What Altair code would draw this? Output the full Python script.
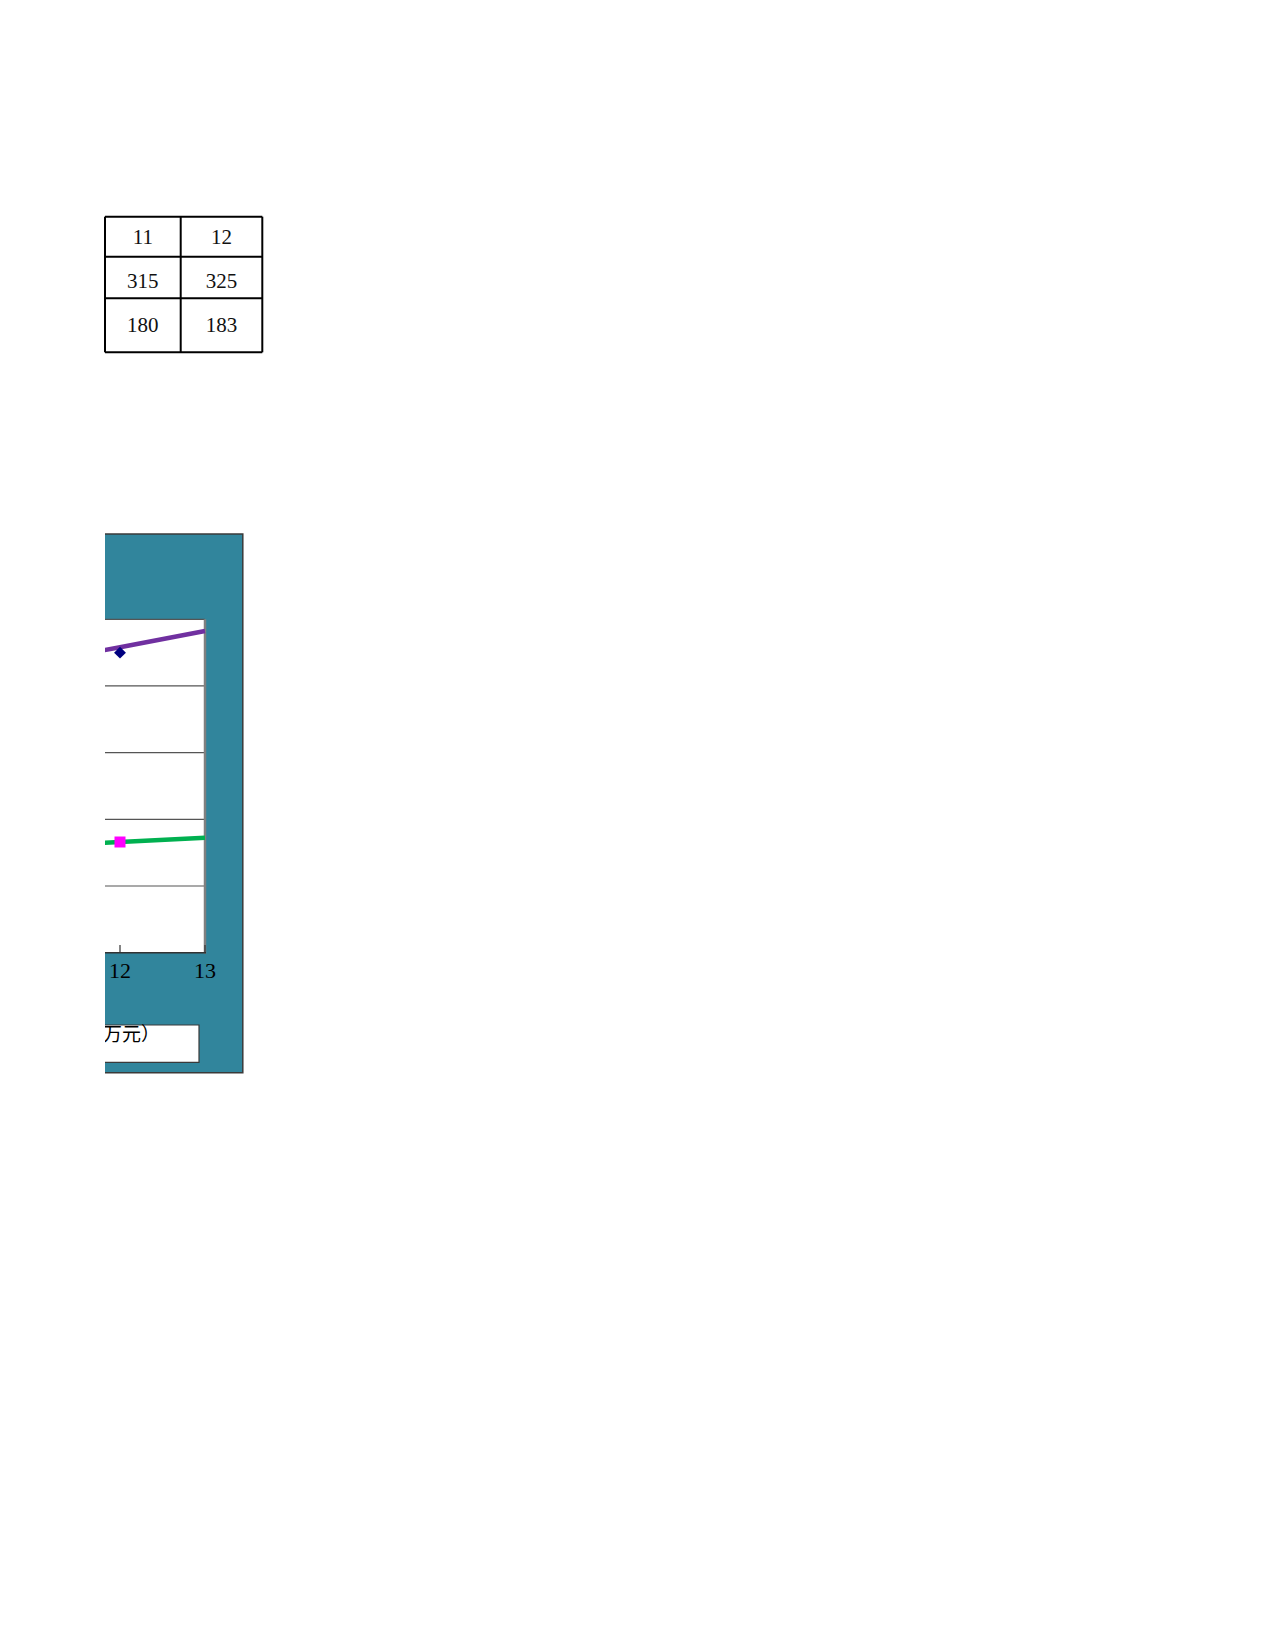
import altair as alt
import pandas as pd

# ---- data ----
years = [11, 12]
series_a = [315, 325]          # navy diamonds / purple trend
series_b = [180, 183]          # magenta squares / green trend
trend_x = [11, 12, 13]
trend_a = [317.0, 329.1, 341.2]
trend_b = [179.8, 183.0, 186.2]
grid_values = [150, 200, 250, 300, 350]
axis_base = [100]
tick_values = [12, 13]
legend_text = ["（万元）"]

# ---- tables for the library ----
rows = []
for i, yv in enumerate(years):
    rows.append({"col": str(yv), "row": "r0", "label": str(yv)})
    rows.append({"col": str(yv), "row": "r1", "label": str(series_a[i])})
    rows.append({"col": str(yv), "row": "r2", "label": str(series_b[i])})
table_df = pd.DataFrame(rows)

pts_a = pd.DataFrame({"x": years, "v": series_a})
pts_b = pd.DataFrame({"x": years, "v": series_b})
trend_df = pd.DataFrame(
    {"x": trend_x * 2, "v": trend_a + trend_b,
     "s": ["a"] * len(trend_x) + ["b"] * len(trend_x)}
)
grid_df = pd.DataFrame({"v": grid_values})
base_df = pd.DataFrame({"v": axis_base})
tick_df = pd.DataFrame({"x": tick_values, "t": [str(t) for t in tick_values]})
leg_df = pd.DataFrame({"t": legend_text})

SERIF = "Liberation Serif"

xs = alt.Scale(domain=[11, 13], range=[-70, 100], nice=False, zero=False)
ys = alt.Scale(domain=[100, 350], range=[736.0, 402.6], nice=False, zero=False)

# ---- table ----
table_text = alt.Chart(table_df).mark_text(
    font=SERIF, fontSize=21, align="center", baseline="middle", color="#111111"
).encode(
    x=alt.X("col:N", scale=alt.Scale(domain=["11", "12"], range=[-1.5, 155.8],
                                     paddingInner=0, paddingOuter=0), axis=None),
    y=alt.Y("row:N", scale=alt.Scale(domain=["r0", "r1", "r2"], range=[-1.2, 131.2],
                                     paddingInner=0, paddingOuter=0), axis=None),
    text="label:N",
)

def hrule(y, x1, x2, color="black", w=2):
    return alt.Chart(pd.DataFrame({"k": [0]})).mark_rule(color=color, strokeWidth=w).encode(
        x=alt.value(x1), x2=alt.value(x2), y=alt.value(y))

def vrule(x, y1, y2, color="black", w=2):
    return alt.Chart(pd.DataFrame({"k": [0]})).mark_rule(color=color, strokeWidth=w).encode(
        x=alt.value(x), y=alt.value(y1), y2=alt.value(y2))

table_lines = [
    hrule(0, 0, 157.3), hrule(40, 0, 157.3), hrule(81.6, 0, 157.3), hrule(135.6, 0, 157.3),
    vrule(0, 0, 135.6), vrule(75.7, 0, 135.6), vrule(157.3, 0, 135.6),
]

# ---- chart fragment ----
one = pd.DataFrame({"k": [0]})
teal = alt.Chart(one).mark_rect(fill="#31859C", stroke="#3a3a3a", strokeWidth=1.5, clip=True).encode(
    x=alt.value(-5), x2=alt.value(137.8), y=alt.value(317.3), y2=alt.value(856))
plot_bg = alt.Chart(one).mark_rect(fill="white", clip=True).encode(
    x=alt.value(-5), x2=alt.value(100), y=alt.value(402.6), y2=alt.value(736))
right_border = vrule(100, 402.6, 737, color="#808080", w=2.5)

grid = alt.Chart(grid_df).mark_rule(color="#555555", strokeWidth=1.2).encode(
    y=alt.Y("v:Q", scale=ys, axis=None), x=alt.value(0), x2=alt.value(100))
base = alt.Chart(base_df).mark_rule(color="#333333", strokeWidth=1.5).encode(
    y=alt.Y("v:Q", scale=ys, axis=None), x=alt.value(0), x2=alt.value(101))
ticks = alt.Chart(tick_df).mark_rule(color="#333333", strokeWidth=1.2).encode(
    x=alt.X("x:Q", scale=xs, axis=None), y=alt.value(728.3), y2=alt.value(736))
tick_labels = alt.Chart(tick_df).mark_text(
    font=SERIF, fontSize=22, align="center", baseline="middle", color="black"
).encode(x=alt.X("x:Q", scale=xs, axis=None), y=alt.value(754.5), text="t:N")

trend = alt.Chart(trend_df).mark_line(strokeWidth=4.5, clip=True).encode(
    x=alt.X("x:Q", scale=xs, axis=None),
    y=alt.Y("v:Q", scale=ys, axis=None),
    color=alt.Color("s:N", scale=alt.Scale(domain=["a", "b"], range=["#7030A0", "#00B050"]), legend=None),
    detail="s:N",
)
p_a = alt.Chart(pts_a).mark_point(shape="diamond", filled=True, size=140, color="#000080",
                                  opacity=1, clip=True).encode(
    x=alt.X("x:Q", scale=xs, axis=None), y=alt.Y("v:Q", scale=ys, axis=None))
p_b = alt.Chart(pts_b).mark_point(shape="square", filled=True, size=121, color="#FF00FF",
                                  opacity=1, clip=True).encode(
    x=alt.X("x:Q", scale=xs, axis=None), y=alt.Y("v:Q", scale=ys, axis=None))

leg_box = alt.Chart(one).mark_rect(fill="white", stroke="#3a3a3a", strokeWidth=1.2, clip=True).encode(
    x=alt.value(-5), x2=alt.value(94), y=alt.value(808.3), y2=alt.value(845.6))
leg_text = alt.Chart(leg_df).mark_text(
    font="Noto Sans CJK SC", fontSize=19, align="right", baseline="middle", color="black", clip=True
).encode(x=alt.value(55), y=alt.value(818.5), text="t:N")

layers = [table_text] + table_lines + [
    teal, plot_bg, grid, right_border, base, ticks, tick_labels,
    trend, p_a, p_b, leg_box, leg_text,
]

chart = alt.layer(*layers).resolve_scale(
    x="independent", y="independent", color="independent"
).properties(
    width=140, height=860,
    autosize=alt.AutoSizeParams(type="none"),
    padding={"left": 97, "top": 208.7, "right": 300, "bottom": 40},
).configure_view(stroke=None)

chart.save("out.html", embed_options={"renderer": "svg", "actions": False})
